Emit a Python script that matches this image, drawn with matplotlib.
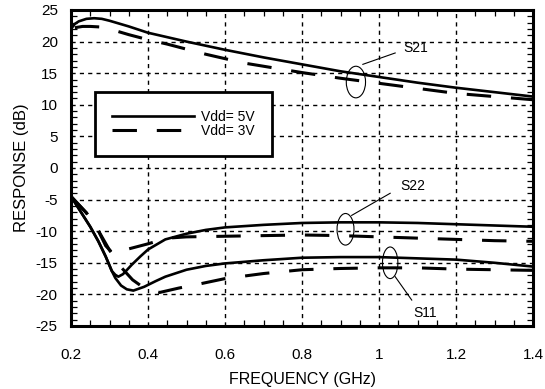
import matplotlib
matplotlib.use("Agg")
from matplotlib import pyplot as plt
from matplotlib.patches import Ellipse

plt.rcParams['font.family'] = ['Liberation Sans', 'DejaVu Sans']
plt.rcParams['axes.unicode_minus'] = False

# S21 (gain)
s21_5v_f = [0.2, 0.21, 0.22, 0.24, 0.26, 0.28, 0.3, 0.35, 0.4, 0.5, 0.6, 0.7, 0.8, 0.9, 1.0, 1.1, 1.2, 1.3, 1.4]
s21_5v = [22.0, 22.8, 23.2, 23.6, 23.7, 23.6, 23.3, 22.4, 21.4, 20.0, 18.7, 17.5, 16.4, 15.3, 14.4, 13.5, 12.7, 12.0, 11.3]
s21_3v_f = [0.21, 0.23, 0.25, 0.28, 0.3, 0.35, 0.4, 0.45, 0.5, 0.55, 0.6, 0.65, 0.7, 0.75, 0.8, 0.9, 1.0, 1.1, 1.2, 1.3, 1.4]
s21_3v = [22.2, 22.4, 22.4, 22.3, 22.0, 21.1, 20.3, 19.6, 18.8, 18.0, 17.3, 16.6, 16.1, 15.6, 15.1, 14.2, 13.4, 12.6, 11.8, 11.3, 10.8]

# S22 (output return loss)
s22_5v_f = [0.2, 0.25, 0.271, 0.29, 0.306, 0.315, 0.323, 0.335, 0.358, 0.38, 0.4, 0.445, 0.5, 0.55, 0.6, 0.7, 0.8, 0.9, 1.0, 1.1, 1.2, 1.3, 1.4]
s22_5v = [-4.5, -9.3, -11.6, -14.0, -16.3, -16.9, -17.2, -16.8, -15.3, -14.0, -12.9, -11.3, -10.4, -9.8, -9.4, -9.0, -8.7, -8.6, -8.6, -8.7, -8.9, -9.1, -9.3]
s22_3v_f = [0.2, 0.24, 0.27, 0.29, 0.31, 0.33, 0.35, 0.4, 0.45, 0.5, 0.6, 0.7, 0.8, 0.9, 1.0, 1.1, 1.2, 1.3, 1.4]
s22_3v = [-4.5, -7.1, -9.8, -12.3, -13.6, -13.2, -12.8, -12.0, -11.1, -10.9, -10.8, -10.7, -10.6, -10.7, -10.9, -11.1, -11.3, -11.5, -11.6]

# S11 (input return loss)
s11_5v_f = [0.2, 0.25, 0.271, 0.29, 0.306, 0.315, 0.33, 0.345, 0.362, 0.39, 0.42, 0.445, 0.5, 0.55, 0.6, 0.7, 0.8, 0.9, 1.0, 1.1, 1.2, 1.3, 1.4]
s11_5v = [-4.5, -9.3, -11.6, -14.0, -16.3, -17.4, -18.6, -19.2, -19.4, -18.8, -17.9, -17.2, -16.1, -15.5, -15.1, -14.6, -14.2, -14.1, -14.1, -14.3, -14.5, -15.0, -15.6]
s11_3v_f = [0.2, 0.24, 0.27, 0.3, 0.33, 0.36, 0.39, 0.43, 0.48, 0.53, 0.6, 0.7, 0.8, 0.9, 1.0, 1.1, 1.2, 1.3, 1.4]
s11_3v = [-4.5, -7.1, -9.8, -13.0, -15.7, -17.7, -19.0, -19.7, -19.0, -18.4, -17.5, -16.7, -16.1, -15.9, -15.8, -15.8, -16.0, -16.1, -16.2]

x_ticks = [0.2, 0.4, 0.6, 0.8, 1.0, 1.2, 1.4]
x_labels = ['0.2', '0.4', '0.6', '0.8', '1', '1.2', '1.4']
y_ticks = list(range(-25, 30, 5))

# labels: (name, ellipse centre, ellipse w/h, leader start, leader end, text pos)
callouts = [
    ('S21', (0.94, 13.6), (0.05, 5.0), (0.958, 16.4), (1.042, 18.2), (1.062, 19.0)),
    ('S22', (0.913, -9.7), (0.044, 5.0), (0.929, -7.5), (1.029, -4.0), (1.055, -2.9)),
    ('S11', (1.029, -15.0), (0.04, 5.0), (1.042, -17.2), (1.085, -20.9), (1.088, -22.9)),
]

fig = plt.figure(figsize=(5.45, 3.89), dpi=100)
ax = fig.add_axes([0.1303, 0.162, 0.8477, 0.8123])

solid = dict(color='black', linewidth=1.9)
dashed = dict(color='black', linewidth=2.2, dashes=(8, 6.5))

ax.plot(s21_5v_f, s21_5v, label='Vdd= 5V', **solid)
ax.plot(s21_3v_f, s21_3v, label='Vdd= 3V', **dashed)
ax.plot(s22_5v_f, s22_5v, **solid)
ax.plot(s22_3v_f, s22_3v, **dashed)
ax.plot(s11_5v_f, s11_5v, **solid)
ax.plot(s11_3v_f, s11_3v, **dashed)

for name, c, wh, p0, p1, tp in callouts:
    ax.add_patch(Ellipse(c, wh[0], wh[1], fill=False, edgecolor='black', linewidth=0.8))
    ax.plot([p0[0], p1[0]], [p0[1], p1[1]], color='black', linewidth=0.8)
    ax.text(tp[0], tp[1], name, fontsize=10, va='center', ha='left')

ax.set_xlim(0.2, 1.4)
ax.set_ylim(-25, 25)
ax.set_xticks(x_ticks)
ax.set_xticklabels(x_labels)
ax.set_yticks(y_ticks)
ax.set_xticks([0.2 + 0.05 * i for i in range(25)], minor=True)
ax.set_yticks(list(range(-25, 26)), minor=True)

ax.grid(True, which='major', color='black', linewidth=1.0, linestyle=(0, (3, 3)))
ax.tick_params(which='both', direction='in', top=True, right=True, color='black')
ax.tick_params(which='major', length=0, labelsize=11)
ax.tick_params(axis='x', which='major', pad=16)
ax.tick_params(axis='y', which='major', pad=9.5)
ax.tick_params(which='minor', length=4, width=0.9)
for s in ax.spines.values():
    s.set_linewidth(2.2)

ax.set_xlabel('FREQUENCY (GHz)', fontsize=11.5, labelpad=7)
ax.set_ylabel('RESPONSE (dB)', fontsize=12, labelpad=5)

leg = ax.legend(loc='upper left', bbox_to_anchor=(0.052, 0.74), borderaxespad=0,
                fontsize=10, handlelength=5.9, handletextpad=0.5, borderpad=1.25,
                labelspacing=0.05, fancybox=False, framealpha=1, edgecolor='black')
leg.get_frame().set_linewidth(2.0)

fig.savefig('out.png', dpi=100)
